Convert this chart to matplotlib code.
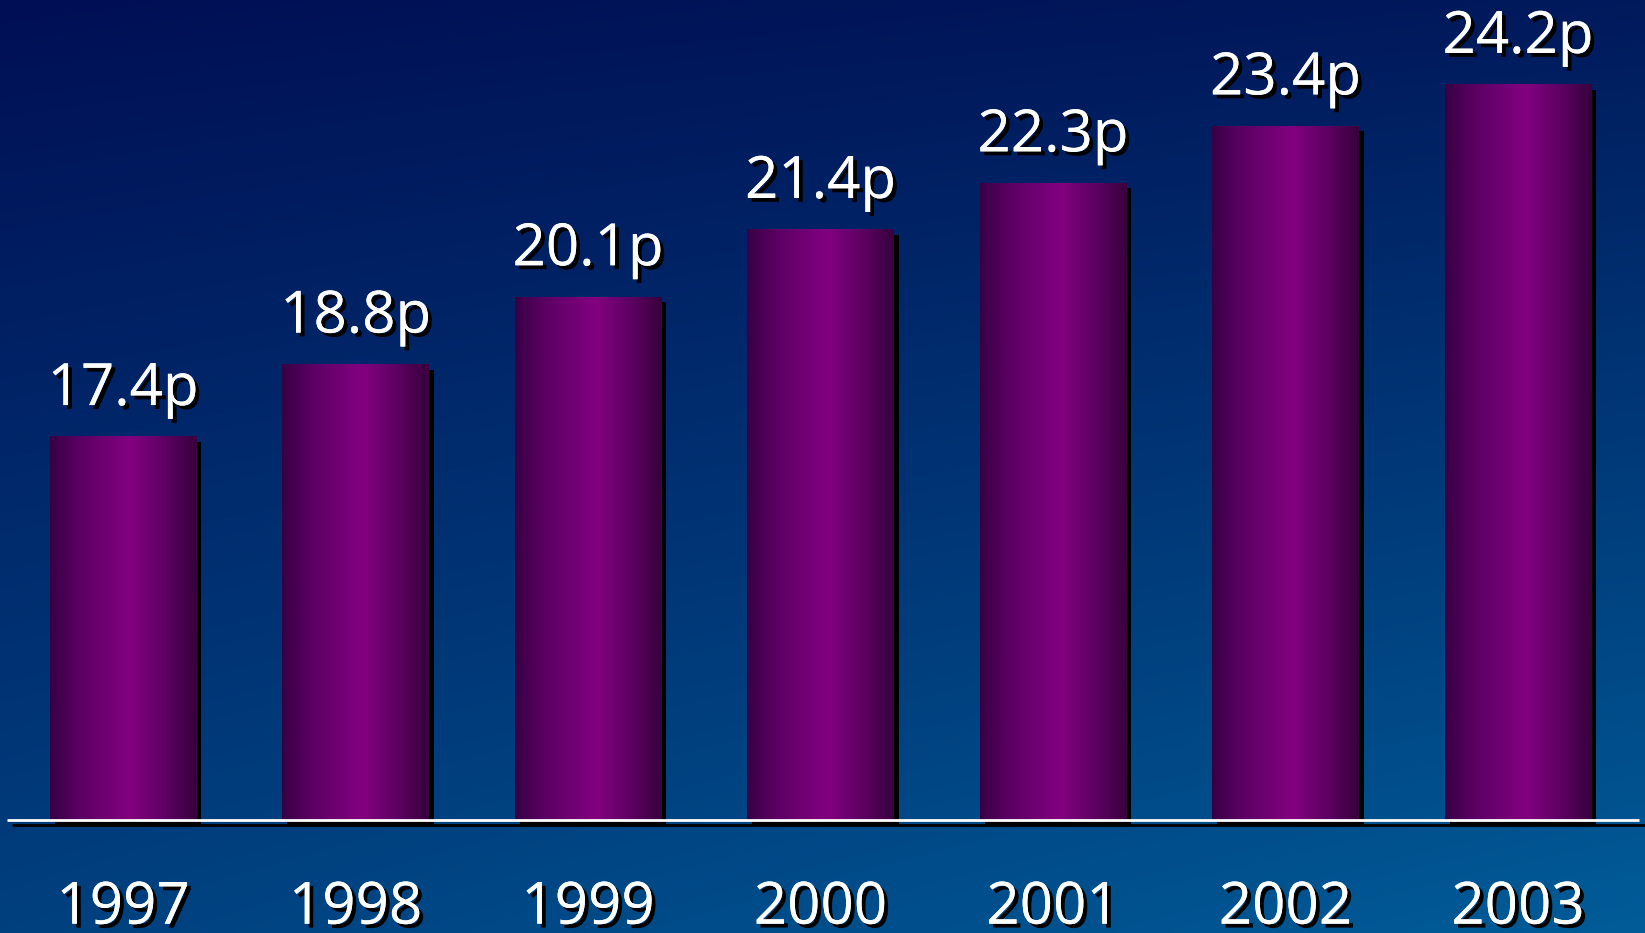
import numpy as np
import matplotlib
matplotlib.use("Agg")
import matplotlib.pyplot as plt
import matplotlib.patheffects as pe
from matplotlib.transforms import ScaledTranslation

# pence per share by year
years = ["1997", "1998", "1999", "2000", "2001", "2002", "2003"]
values = [17.4, 18.8, 20.1, 21.4, 22.3, 23.4, 24.2]
labels = ["17.4p", "18.8p", "20.1p", "21.4p", "22.3p", "23.4p", "24.2p"]

W, H, DPI = 1645, 933, 100
fig = plt.figure(figsize=(W / DPI, H / DPI), dpi=DPI)

# background: diagonal blue gradient
bg = fig.add_axes([0, 0, 1, 1])
bg.axis("off")
tl = np.array([0, 15, 85]) / 255
tr = np.array([0, 26, 92]) / 255
bl = np.array([0, 64, 127]) / 255
br = np.array([0, 92, 152]) / 255
u = np.linspace(0, 1, 200)[None, :, None]
v = np.linspace(0, 1, 120)[:, None, None]
grad = (1 - v) * ((1 - u) * tl + u * tr) + v * ((1 - u) * bl + u * br)
bg.imshow(grad, aspect="auto", extent=(0, 1, 0, 1), interpolation="bilinear")
bg.set_xlim(0, 1)
bg.set_ylim(0, 1)

ax = fig.add_axes([0, 0, 1, 1], zorder=2)
ax.patch.set_alpha(0)
ax.axis("off")

# cylinder-like shading across each bar
stops = [0.0, 0.2, 0.55, 0.8, 1.0]
reds = [0.22, 0.36, 0.51, 0.36, 0.22]
blues = [0.27, 0.39, 0.50, 0.38, 0.24]
xs = np.linspace(0, 1, 100)
shade = np.zeros((1, 100, 3))
shade[0, :, 0] = np.interp(xs, stops, reds)
shade[0, :, 2] = np.interp(xs, stops, blues)

bar_w = 0.63
base = 10
shift = lambda dx, dy: ScaledTranslation(dx / DPI, dy / DPI, fig.dpi_scale_trans)
txt_fx = [pe.withSimplePatchShadow(offset=(2.8, -2.8), shadow_rgbFace="black", alpha=1), pe.Normal()]
font = dict(family="Open Sans", fontsize=42, color="white", path_effects=txt_fx)

for i, (val, lab, yr) in enumerate(zip(values, labels, years)):
    ax.bar(i, val - base, bottom=base, width=bar_w, color="black",
           transform=ax.transData + shift(5, -5), zorder=2)
    ax.imshow(shade, aspect="auto", extent=(i - bar_w / 2, i + bar_w / 2, base, val),
              interpolation="bilinear", zorder=3)
    ax.annotate(lab, (i, val), xytext=(0, 23), textcoords="offset points",
                ha="center", va="baseline", zorder=5, **font)
    ax.text(i, 8.0, yr, ha="center", va="baseline", zorder=5, **font)

ax.set_xlim(-0.529, 6.546)
ax.set_ylim(7.82, 25.84)

# baseline with drop shadow
ax.plot([12 / W, 1.0], [base, base], color="black", lw=2, solid_capstyle="butt",
        transform=ax.get_yaxis_transform() + shift(0, -4.5), zorder=4)
ax.plot([7 / W, 1639 / W], [base, base], color="white", lw=2, solid_capstyle="butt",
        transform=ax.get_yaxis_transform(), zorder=4)

fig.savefig("out.png", dpi=DPI)
